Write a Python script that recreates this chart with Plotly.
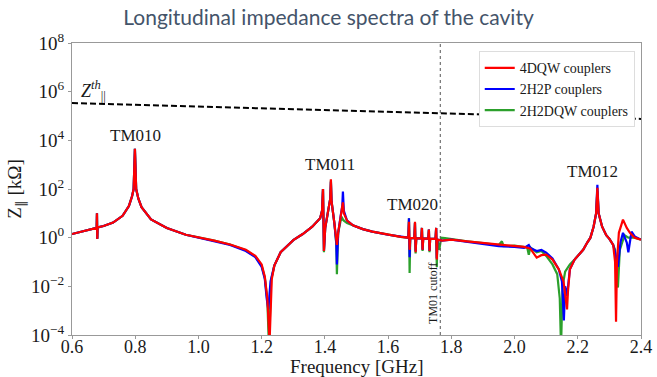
import numpy as np
import plotly.graph_objects as go

# ---------------- data ----------------
# frequency in GHz, impedance given as log10(Z [kOhm])
red_f = [0.60, 0.65, 0.675, 0.678, 0.679, 0.680, 0.681, 0.70, 0.73, 0.76, 0.78, 0.79, 0.795, 0.799, 0.803,
         0.81, 0.82, 0.85, 0.90, 0.96, 1.00, 1.05, 1.10, 1.15, 1.18, 1.20, 1.21, 1.218, 1.225, 1.232, 1.24,
         1.26, 1.28, 1.30, 1.33, 1.36, 1.385, 1.391, 1.394, 1.397, 1.401, 1.41, 1.417, 1.419, 1.421, 1.43,
         1.436, 1.438, 1.442, 1.45, 1.455, 1.457, 1.46, 1.47, 1.49, 1.52, 1.55, 1.60, 1.64,
         1.664, 1.666, 1.668, 1.670, 1.683, 1.685, 1.687, 1.689, 1.705, 1.707, 1.709, 1.711,
         1.727, 1.729, 1.731, 1.733, 1.750, 1.752, 1.754, 1.756, 1.77, 1.80, 1.85, 1.90, 1.95, 2.00,
         2.03, 2.05, 2.07, 2.085, 2.10, 2.12, 2.14, 2.155, 2.163, 2.166, 2.169, 2.175, 2.19, 2.20,
         2.217, 2.23, 2.24, 2.25, 2.258, 2.262, 2.266, 2.277, 2.29, 2.30, 2.312, 2.318, 2.321, 2.324,
         2.33, 2.343, 2.355, 2.365, 2.38, 2.40]
red_exp = [0.15, 0.30, 0.38, 0.40, 1.00, -0.05, 0.42, 0.48, 0.62, 0.90, 1.30, 1.70, 2.00, 3.65, 2.00,
           1.60, 1.25, 0.75, 0.40, 0.12, 0.02, -0.12, -0.28, -0.50, -0.75, -1.10, -1.60, -2.50, -4.30, -1.70, -1.15,
           -0.60, -0.35, -0.10, 0.15, 0.45, 0.80, 1.10, 2.00, -0.55, 0.40, 1.00, 1.60, 2.40, 1.50, 0.60,
           -0.10, -0.30, 0.20, 0.80, 1.15, 1.45, 1.00, 0.70, 0.50, 0.35, 0.25, 0.12, 0.03,
           0.00, 0.65, -0.50, -0.02, -0.02, 0.65, -0.60, -0.03, -0.03, 0.40, -0.50, -0.04,
           -0.04, 0.33, -0.55, -0.05, -0.05, 0.40, -0.90, -0.08, -0.12, -0.08, -0.15, -0.22, -0.28, -0.35,
           -0.38, -0.45, -0.82, -0.72, -0.70, -0.90, -1.30, -1.80, -2.50, -2.95, -2.20, -1.30, -0.90, -0.75,
           -0.50, -0.20, 0.00, 0.45, 1.00, 2.05, 1.00, 0.45, 0.10, -0.05, -0.30, -1.00, -3.45, -1.00,
           0.20, 0.74, 0.40, 0.20, 0.00, -0.08]

blue_f = [0.60, 0.65, 0.675, 0.678, 0.679, 0.680, 0.681, 0.70, 0.73, 0.76, 0.78, 0.79, 0.795, 0.799, 0.803,
          0.81, 0.82, 0.85, 0.90, 0.96, 1.00, 1.05, 1.10, 1.15, 1.18, 1.20, 1.21, 1.216, 1.221, 1.228, 1.24,
          1.26, 1.28, 1.30, 1.33, 1.36, 1.385, 1.391, 1.394, 1.397, 1.401, 1.41, 1.417, 1.419, 1.421, 1.43,
          1.436, 1.438, 1.442, 1.45, 1.455, 1.457, 1.46, 1.47, 1.49, 1.52, 1.55, 1.60, 1.64,
          1.664, 1.666, 1.668, 1.670, 1.683, 1.685, 1.687, 1.689, 1.705, 1.707, 1.709, 1.711,
          1.727, 1.729, 1.731, 1.733, 1.750, 1.752, 1.754, 1.756, 1.77, 1.80, 1.85, 1.90, 1.95, 2.00,
          2.03, 2.045, 2.05, 2.07, 2.085, 2.10, 2.12, 2.14, 2.150, 2.156, 2.160, 2.166, 2.175, 2.19, 2.20,
          2.217, 2.23, 2.24, 2.25, 2.258, 2.262, 2.266, 2.277, 2.29, 2.30, 2.312, 2.318, 2.327, 2.335,
          2.343, 2.355, 2.360, 2.370, 2.38, 2.40]
blue_exp = [0.15, 0.30, 0.38, 0.40, 1.00, -0.05, 0.42, 0.48, 0.62, 0.90, 1.30, 1.70, 2.00, 3.65, 2.00,
            1.60, 1.25, 0.75, 0.40, 0.12, 0.00, -0.14, -0.30, -0.55, -0.80, -1.20, -1.70, -2.50, -2.95, -1.80, -1.15,
            -0.60, -0.35, -0.10, 0.15, 0.45, 0.80, 1.10, 2.00, -0.55, 0.40, 1.00, 1.60, 2.30, 1.50, 0.60,
            -0.20, -1.10, 0.20, 0.90, 1.30, 1.90, 1.10, 0.70, 0.50, 0.35, 0.25, 0.12, 0.03,
            0.00, 0.80, -0.80, -0.02, -0.02, 0.60, -0.55, -0.03, -0.03, 0.40, -0.50, -0.04,
            -0.04, 0.33, -0.55, -0.05, -0.05, 0.40, -0.85, -0.08, -0.12, -0.08, -0.18, -0.28, -0.35, -0.38,
            -0.42, -0.30, -0.42, -0.55, -0.50, -0.62, -0.85, -1.30, -1.80, -3.40, -2.00, -2.40, -1.30, -0.90, -0.75,
            -0.50, -0.20, 0.00, 0.45, 1.00, 2.17, 1.00, 0.45, 0.10, -0.05, -0.30, -0.60, -1.20, -0.20,
            0.20, -0.20, -0.60, 0.25, 0.05, -0.08]

green_f = [0.60, 0.65, 0.675, 0.678, 0.679, 0.680, 0.681, 0.70, 0.73, 0.76, 0.78, 0.79, 0.795, 0.799, 0.803,
           0.81, 0.82, 0.85, 0.90, 0.96, 1.00, 1.05, 1.10, 1.15, 1.18, 1.20, 1.21, 1.218, 1.223, 1.230, 1.24,
           1.26, 1.28, 1.30, 1.33, 1.36, 1.385, 1.391, 1.394, 1.397, 1.401, 1.41, 1.417, 1.419, 1.421, 1.43,
           1.436, 1.438, 1.442, 1.45, 1.455, 1.457, 1.46, 1.47, 1.49, 1.52, 1.55, 1.60, 1.64,
           1.664, 1.666, 1.668, 1.670, 1.683, 1.685, 1.687, 1.689, 1.705, 1.707, 1.709, 1.711,
           1.727, 1.729, 1.731, 1.733, 1.750, 1.752, 1.754, 1.756, 1.762, 1.768, 1.78, 1.80, 1.85, 1.90,
           1.95, 1.96, 1.965, 2.00, 2.03, 2.04, 2.045, 2.05, 2.07, 2.085, 2.10, 2.12, 2.135, 2.143, 2.147,
           2.152, 2.16, 2.175, 2.19, 2.20, 2.217, 2.23, 2.24, 2.25, 2.258, 2.262, 2.266, 2.277, 2.29, 2.30,
           2.312, 2.318, 2.327, 2.333, 2.348, 2.36, 2.38, 2.40]
green_exp = [0.15, 0.30, 0.38, 0.40, 1.00, -0.05, 0.42, 0.48, 0.62, 0.90, 1.30, 1.70, 2.00, 3.65, 2.00,
             1.60, 1.25, 0.75, 0.40, 0.12, 0.02, -0.12, -0.28, -0.52, -0.78, -1.15, -1.65, -2.60, -4.50, -1.75, -1.15,
             -0.60, -0.35, -0.10, 0.15, 0.45, 0.80, 1.10, 2.00, -0.60, 0.40, 1.00, 1.60, 2.35, 1.50, 0.60,
             -0.25, -1.50, 0.20, 0.70, 0.80, 0.75, 0.70, 0.60, 0.50, 0.35, 0.25, 0.12, 0.03,
             0.00, 0.80, -1.45, -0.02, -0.02, 0.60, -0.65, -0.03, -0.03, 0.40, -0.55, -0.04,
             -0.04, 0.33, -0.60, -0.05, -0.05, 0.40, -1.20, -0.08, -0.50, 0.00, -0.02, -0.06, -0.15, -0.22,
             -0.30, -0.15, -0.35, -0.33, -0.38, -0.40, -0.70, -0.40, -0.60, -0.55, -0.75, -1.10, -1.50, -2.50, -4.50,
             -2.00, -1.40, -1.10, -0.90, -0.75, -0.50, -0.20, 0.00, 0.45, 1.00, 1.90, 1.00, 0.45, 0.10, -0.05,
             -0.30, -0.50, -2.05, -0.50, 0.10, 0.00, 0.00, -0.08]

zth_f = [0.6, 2.4]
zth_exp = [5.53, 4.88]

cutoff_f = 1.765
mode_labels = ["TM010", "TM011", "TM020", "TM012"]
mode_f = [0.80, 1.416, 1.676, 2.245]
mode_exp = [4.2, 3.0, 1.38, 2.7]

y_tick_exp = [-4, -2, 0, 2, 4, 6, 8]
x_ticks = [0.6, 0.8, 1.0, 1.2, 1.4, 1.6, 1.8, 2.0, 2.2, 2.4]

# ---------------- figure ----------------
SERIF = "Liberation Serif"
TXT = "#1a1a1a"
fig = go.Figure()

series = [
    ("2H2DQW couplers", green_f, green_exp, "#2ca02c"),
    ("2H2P couplers", blue_f, blue_exp, "#0000ff"),
    ("4DQW couplers", red_f, red_exp, "#ff0000"),
]
for name, f, e, c in series:
    fig.add_trace(go.Scatter(x=f, y=10 ** np.array(e), mode="lines", name=name,
                             line=dict(color=c, width=2.2)))

fig.add_trace(go.Scatter(x=zth_f, y=10 ** np.array(zth_exp), mode="lines", showlegend=False,
                         line=dict(color="black", width=2, dash="6px,3px")))

fig.add_shape(type="line", xref="x", yref="paper", x0=cutoff_f, x1=cutoff_f, y0=0, y1=1,
              line=dict(color="#555555", width=1, dash="dot"))

annotations = []
for lab, f, e in zip(mode_labels, mode_f, mode_exp):
    annotations.append(dict(x=f, y=e, xref="x", yref="y", text=lab, showarrow=False,
                            font=dict(family=SERIF, size=17, color=TXT)))
annotations.append(dict(x=cutoff_f, y=-2.3, xref="x", yref="y", text="TM01 cutoff",
                        textangle=-90, showarrow=False, xshift=-8,
                        font=dict(family=SERIF, size=12, color=TXT)))
annotations.append(dict(x=0.668, y=6.05, xref="x", yref="y",
                        text="<i>Z</i><sup><i>th</i></sup><sub>||</sub>", showarrow=False,
                        font=dict(family=SERIF, size=18, color=TXT)))
# x-axis title placed in paper coordinates (below tick labels)
annotations.append(dict(x=0.5, y=-0.107, xref="paper", yref="paper", text="Frequency [GHz]",
                        showarrow=False, xanchor="center", yanchor="middle",
                        font=dict(family=SERIF, size=19, color=TXT)))

fig.update_layout(
    width=657, height=377,
    margin=dict(l=72, r=16, t=43, b=42),
    paper_bgcolor="white", plot_bgcolor="white",
    title=dict(text="Longitudinal impedance spectra of the cavity", x=0.5, xanchor="center",
               y=0.952, yanchor="middle",
               font=dict(family="Lato", size=21, color="#44546A")),
    legend=dict(x=0.989, y=0.972, xanchor="right", yanchor="top", traceorder="reversed",
                bgcolor="white", bordercolor="#dddddd", borderwidth=1,
                font=dict(family=SERIF, size=14, color=TXT),
                itemwidth=30, tracegroupgap=0),
    annotations=annotations,
    showlegend=True,
)

fig.update_xaxes(range=[0.6, 2.4], tickvals=x_ticks, ticktext=[f"{v:.1f}" for v in x_ticks],
                 showgrid=False, zeroline=False, showline=True, linecolor="#999999", linewidth=1,
                 mirror=True, ticks="outside", ticklen=3, tickcolor="#999999",
                 automargin=False, ticklabelstandoff=-8,
                 tickfont=dict(family=SERIF, size=18, color=TXT))
fig.update_yaxes(type="log", range=[-4, 8], tickvals=[10.0 ** k for k in y_tick_exp],
                 ticktext=[f"10<sup>{k}</sup>" if k >= 0 else f"10<sup>\u2212{abs(k)}</sup>" for k in y_tick_exp],
                 showgrid=False, zeroline=False, showline=True, linecolor="#999999", linewidth=1,
                 mirror=True, ticks="outside", ticklen=3, tickcolor="#999999",
                 automargin=False,
                 tickfont=dict(family=SERIF, size=19, color=TXT),
                 title=dict(text="Z<sub>\u2225</sub> [k\u03a9]", font=dict(family=SERIF, size=19, color=TXT),
                            standoff=4))

fig.write_html("out.html")
